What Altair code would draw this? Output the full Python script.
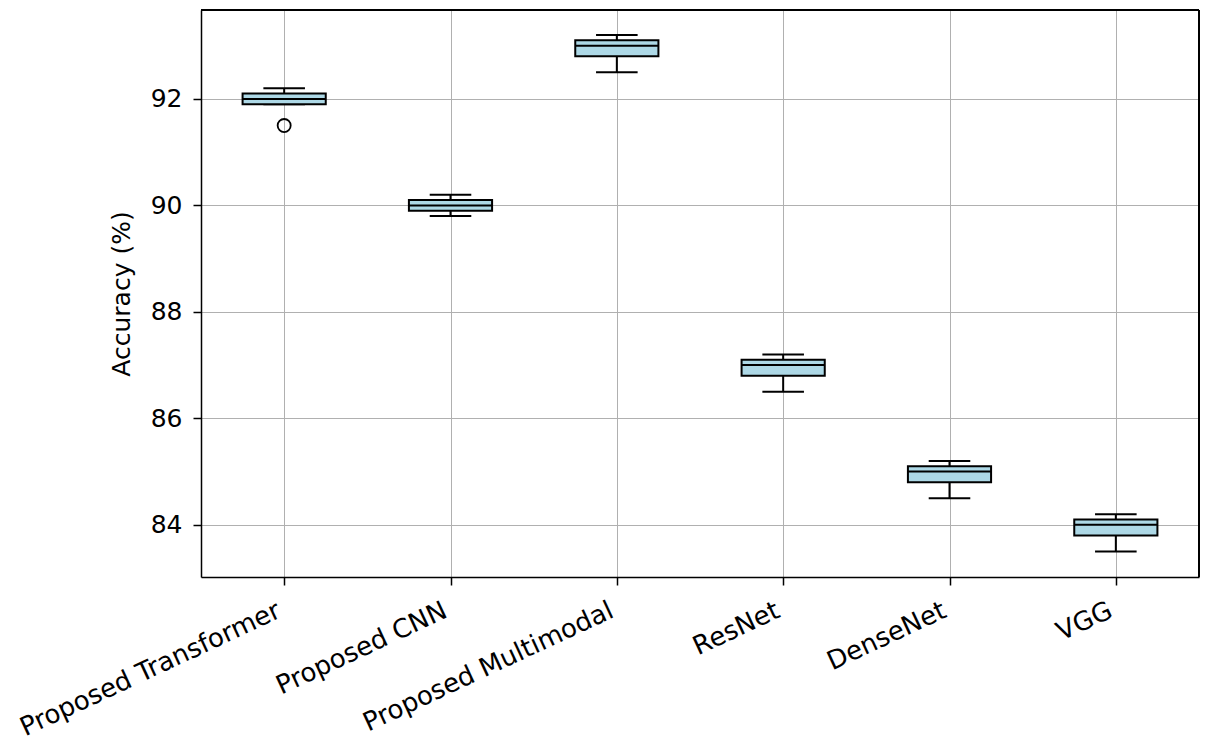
import altair as alt
import pandas as pd

# Accuracy distribution per model (box statistics)
models = ["Proposed Transformer", "Proposed CNN", "Proposed Multimodal",
          "ResNet", "DenseNet", "VGG"]
positions = [1, 2, 3, 4, 5, 6]
whisker_low = [91.9, 89.8, 92.5, 86.5, 84.5, 83.5]
q1 = [91.9, 89.9, 92.8, 86.8, 84.8, 83.8]
median = [92.0, 90.0, 93.0, 87.0, 85.0, 84.0]
q3 = [92.1, 90.1, 93.1, 87.1, 85.1, 84.1]
whisker_high = [92.2, 90.2, 93.2, 87.2, 85.2, 84.2]

# Outliers
outlier_pos = [1]
outlier_val = [91.5]

df = pd.DataFrame({
    "model": models, "pos": positions, "lo": whisker_low, "q1": q1,
    "med": median, "q3": q3, "hi": whisker_high,
})
out_df = pd.DataFrame({"pos": outlier_pos, "val": outlier_val})

label_expr = "[" + ",".join(f"'{m}'" for m in models) + "][datum.value - 1]"

W, H = 998, 567
x_scale = alt.Scale(domain=[0.5, 6.5], nice=False, zero=False)
y_scale = alt.Scale(domain=[83.02, 93.67], nice=False, zero=False)

FONT = "DejaVu Sans"
FS = 25

x_axis = alt.Axis(values=positions, labelExpr=label_expr, title=None,
                  labelAngle=-25, labelAlign="right", labelBaseline="top",
                  labelFontSize=26, labelPadding=12, labelOffset=-11,
                  tickSize=8, tickWidth=1.5,
                  labelLimit=0, grid=True, gridColor="#b0b0b0", gridWidth=1,
                  domainColor="black", domainWidth=1.5, tickColor="black",
                  labelColor="black", labelFont=FONT, labelOverlap=False)
y_axis = alt.Axis(values=[84, 86, 88, 90, 92], title="Accuracy (%)",
                  titleFontSize=FS, titleFont=FONT, titleFontWeight="normal",
                  titleColor="black", titlePadding=16,
                  labelFontSize=FS, labelFont=FONT, labelPadding=11,
                  tickSize=8, tickWidth=1.5, grid=True, gridColor="#b0b0b0", gridWidth=1,
                  domainColor="black", domainWidth=1.5, tickColor="black",
                  labelColor="black")

base = alt.Chart(df).transform_calculate(
    bl="datum.pos - 0.25", br="datum.pos + 0.25",
    cl="datum.pos - 0.125", cr="datum.pos + 0.125",
)

whisker_lo = base.mark_rule(color="black", strokeWidth=2).encode(
    x=alt.X("pos:Q", scale=x_scale, axis=x_axis),
    y=alt.Y("lo:Q", scale=y_scale, axis=y_axis),
    y2="q1:Q",
)
whisker_hi = base.mark_rule(color="black", strokeWidth=2).encode(
    x="pos:Q", y="q3:Q", y2="hi:Q",
)
cap_lo = base.mark_rule(color="black", strokeWidth=2).encode(
    x="cl:Q", x2="cr:Q", y="lo:Q",
)
cap_hi = base.mark_rule(color="black", strokeWidth=2).encode(
    x="cl:Q", x2="cr:Q", y="hi:Q",
)
box = base.mark_rect(fill="#add8e6", stroke="black", strokeWidth=2).encode(
    x="bl:Q", x2="br:Q", y="q1:Q", y2="q3:Q",
)
med = base.mark_rule(color="black", strokeWidth=2).encode(
    x="bl:Q", x2="br:Q", y="med:Q",
)
outliers = alt.Chart(out_df).mark_point(
    shape="circle", filled=False, color="black", size=170, strokeWidth=1.8, opacity=1
).encode(x="pos:Q", y="val:Q")

# top and right edges of the plot frame
frame_top = alt.Chart(df).mark_rule(color="black", strokeWidth=1.5).encode(
    x=alt.value(0), x2=alt.value(W), y=alt.value(0)
)
frame_right = alt.Chart(df).mark_rule(color="black", strokeWidth=1.5).encode(
    x=alt.value(W), y=alt.value(0), y2=alt.value(H)
)

chart = alt.layer(whisker_lo, whisker_hi, cap_lo, cap_hi, box, med, outliers,
                  frame_top, frame_right).properties(
    width=W, height=H,
    autosize=alt.AutoSizeParams(type="none"),
    padding={"left": 201, "top": 10, "right": 10, "bottom": 161},
).configure_view(
    stroke="black", strokeWidth=1.5
).configure(background="white")

chart.save("out.html", embed_options={"renderer": "svg", "actions": False})
